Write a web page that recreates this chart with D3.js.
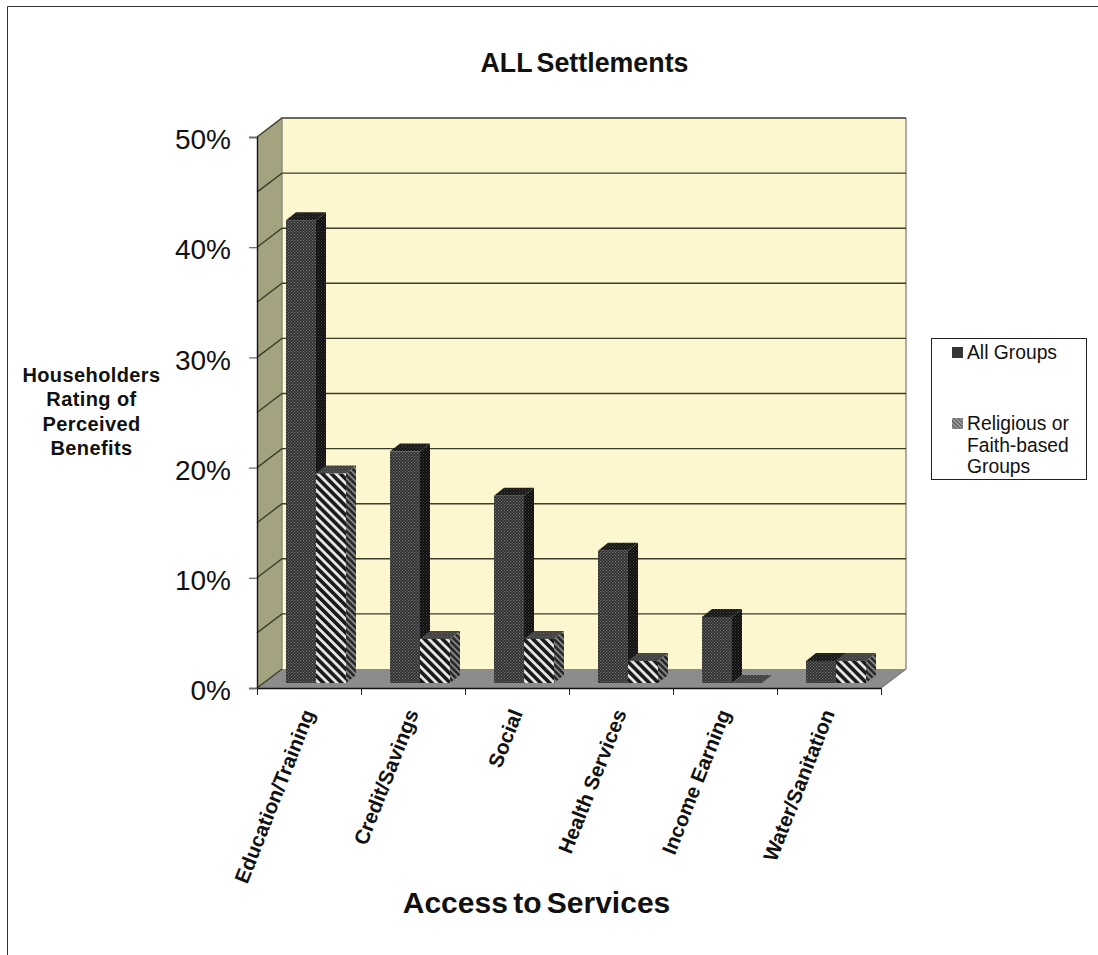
<!DOCTYPE html>
<html><head><meta charset="utf-8">
<script src="https://cdn.jsdelivr.net/npm/d3@7/dist/d3.min.js"></script>
<style>html,body{margin:0;padding:0;background:#fff}svg{display:block}text{font-family:"Liberation Sans",Arial,sans-serif;fill:#111}</style>
</head><body><div id="c"></div>
<script>
const categories=["Education/Training","Credit/Savings","Social","Health Services","Income Earning","Water/Sanitation"];
const allGroups=[42,21,17,12,6,2];
const religious=[19,4,4,2,0,2];
const seriesNames=["All Groups","Religious or Faith-based Groups"];
const yTicks=[0,10,20,30,40,50];
const gridValues=[0,5,10,15,20,25,30,35,40,45,50];

const W=1098,H=955;
const svg=d3.select("#c").append("svg").attr("width",W).attr("height",H);
const defs=svg.append("defs");
function dots(id,bg,fg,s,d){const p=defs.append("pattern").attr("id",id).attr("patternUnits","userSpaceOnUse").attr("width",s).attr("height",s);
 p.append("rect").attr("width",s).attr("height",s).attr("fill",bg);
 p.append("rect").attr("x",0).attr("y",0).attr("width",d).attr("height",d).attr("fill",fg);
 p.append("rect").attr("x",s/2).attr("y",s/2).attr("width",d).attr("height",d).attr("fill",fg);}
function stripes(id,bg,fg,s,w){const p=defs.append("pattern").attr("id",id).attr("patternUnits","userSpaceOnUse").attr("width",s).attr("height",s).attr("patternTransform","rotate(45)");
 p.append("rect").attr("width",s).attr("height",s).attr("fill",bg);
 p.append("rect").attr("width",s).attr("height",w).attr("fill",fg);}
dots("aFront","#2a2a2a","#787878",3,1.2);
dots("aSide","#0e0e0e","#464646",3,1);
dots("aTop","#161616","#484848",3,1);
stripes("rFront","#1a1a1a","#e6e6e6",6.4,2.8);
stripes("rSide","#2a2a2a","#8a8a8a",4.4,1.7);
dots("rTop","#3e3e3e","#6a6a6a",3,1);
dots("legA","#303030","#4c4c4c",3,1);
stripes("legR","#5a5a5a","#a8a8a8",3,1.5);

// page frame
svg.append("path").attr("d",`M7.5,${H}V6.5H${W}`).attr("fill","none").attr("stroke","#333").attr("stroke-width",1);

const dx=25,dy=-19;
const x0=257,slot=104;
const yF=d3.scaleLinear().domain([0,50]).range([688,137]);
const xF=d3.scaleLinear().domain([0,categories.length]).range([x0,x0+slot*categories.length]);
const right=xF(categories.length);

// walls
svg.append("polygon").attr("points",[[x0,yF(0)],[x0,yF(50)],[x0+dx,yF(50)+dy],[x0+dx,yF(0)+dy]].join(" ")).attr("fill","#a3a380");
svg.append("rect").attr("x",x0+dx).attr("y",yF(50)+dy).attr("width",right-x0).attr("height",yF(0)-yF(50)).attr("fill","#fcf7cf");
svg.append("polygon").attr("points",[[x0,yF(0)],[x0+dx,yF(0)+dy],[right+dx,yF(0)+dy],[right,yF(0)]].join(" ")).attr("fill","#8c8c8c");
svg.append("path").attr("d",`M${x0+dx},${yF(50)+dy}V${yF(0)+dy}`).attr("stroke","#8f8f80").attr("stroke-width",1.5).attr("fill","none");
svg.append("path").attr("d",`M${right+dx},${yF(50)+dy}V${yF(0)+dy}L${right},${yF(0)}`).attr("stroke","#777").attr("stroke-width",1.2).attr("fill","none");

// gridlines
svg.append("g").selectAll("path").data(gridValues).join("path")
 .attr("d",v=>`M${x0},${yF(v)}L${x0+dx},${yF(v)+dy}`+(v>0?`H${right+dx}`:""))
 .attr("fill","none").attr("stroke","#3d3d2c").attr("stroke-width",1.4);

// bars
const bw=30,bdx=10,bdy=-8,barOff=29,base=-5;
const seriesData=[{vals:allGroups,f:"aFront",s:"aSide",t:"aTop"},{vals:religious,f:"rFront",s:"rSide",t:"rTop"}];
const bars=svg.append("g");
categories.forEach((c,i)=>{
 seriesData.forEach((sr,j)=>{
  const v=sr.vals[i];
  const x=xF(i)+barOff+j*bw, b=yF(0)+base, t=yF(v)+base;
  const g=bars.append("g").datum(v);
  g.append("polygon").attr("points",[[x+bw,b],[x+bw,t],[x+bw+bdx,t+bdy],[x+bw+bdx,b+bdy]].join(" ")).attr("fill",`url(#${sr.s})`);
  g.append("polygon").attr("points",[[x,t],[x+bdx,t+bdy],[x+bw+bdx,t+bdy],[x+bw,t]].join(" ")).attr("fill",`url(#${sr.t})`);
  g.append("rect").attr("x",x).attr("y",t).attr("width",bw).attr("height",b-t).attr("fill",`url(#${sr.f})`);
 });
});

// axes
const yAxis=d3.axisLeft(yF).tickValues(yTicks).tickFormat(d=>d+"%").tickSize(8).tickPadding(18);
const gy=svg.append("g").attr("transform",`translate(${x0},0)`).call(yAxis);
gy.select(".domain").attr("stroke","#111").attr("stroke-width",1.4);
gy.selectAll(".tick line").attr("stroke","#666").attr("stroke-width",1.2);
gy.selectAll("text").attr("font-size",28).attr("fill","#222").attr("dy","0.42em").style("font-family",'"Liberation Sans"');
const xTickVals=d3.range(categories.length+1);
const xAxis=d3.axisBottom(xF).tickValues(xTickVals).tickFormat("").tickSize(7).tickSizeOuter(0);
const gx=svg.append("g").attr("transform",`translate(0,${yF(0)})`).call(xAxis);
gx.select(".domain").attr("stroke","#111").attr("stroke-width",1.4);
gx.selectAll(".tick line").attr("stroke","#222").attr("stroke-width",1);

// category labels
svg.append("g").selectAll("text").data(categories).join("text")
 .attr("transform",(d,i)=>`translate(${xF(i)+slot/2+6},713) rotate(-68.5)`)
 .attr("text-anchor","end").attr("font-size",20.5).attr("font-weight","bold").attr("fill","#111").text(d=>d);

// titles
svg.append("text").attr("x",584.5).attr("y",72).attr("text-anchor","middle").attr("font-size",26.8).attr("font-weight","bold").attr("word-spacing",-3).text("ALL Settlements");
svg.append("text").attr("x",536.5).attr("y",913).attr("text-anchor","middle").attr("font-size",30).attr("font-weight","bold").attr("word-spacing",-3).text("Access to Services");
const yTitle=["Householders","Rating of","Perceived","Benefits"];
svg.append("g").selectAll("text").data(yTitle).join("text").attr("x",91.5).attr("y",(d,i)=>382+i*24.4)
 .attr("text-anchor","middle").attr("font-size",20).attr("letter-spacing",0.4).attr("font-weight","bold").text(d=>d);

// legend
svg.append("rect").attr("x",931.5).attr("y",338.5).attr("width",155).attr("height",141).attr("fill","#fff").attr("stroke","#222").attr("stroke-width",1);
const lg=svg.append("g");
lg.append("rect").attr("x",952).attr("y",347).attr("width",11).attr("height",11).attr("fill","url(#legA)");
lg.append("rect").attr("x",952).attr("y",418).attr("width",11).attr("height",11).attr("fill","url(#legR)");
lg.append("text").attr("x",967).attr("y",359).attr("font-size",19.3).attr("fill","#222").text(seriesNames[0]);
["Religious or","Faith-based","Groups"].forEach((t,i)=>lg.append("text").attr("x",967).attr("y",430+i*21.7).attr("font-size",19.3).attr("fill","#222").text(t));
</script></body></html>
